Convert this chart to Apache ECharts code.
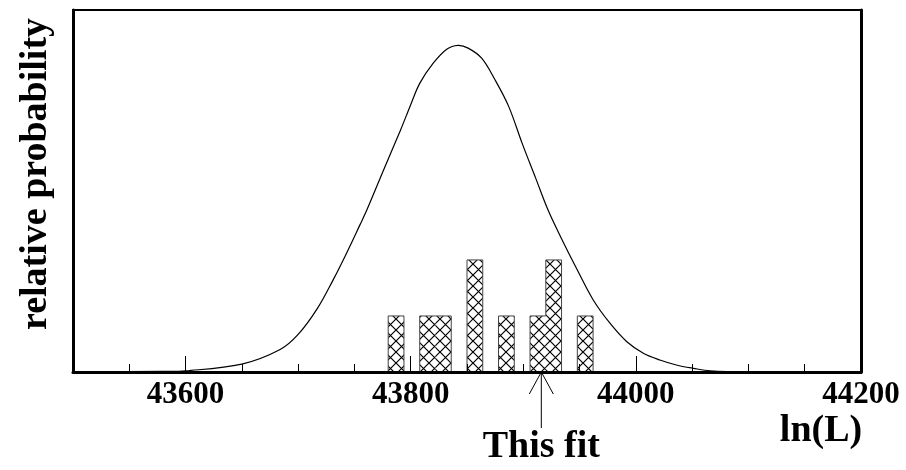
<!DOCTYPE html>
<html>
<head>
<meta charset="utf-8">
<script src="https://cdn.jsdelivr.net/npm/echarts@6/dist/echarts.min.js"></script>
<style>
  html, body { margin: 0; padding: 0; background: #fff; }
  #chart { width: 906px; height: 470px; }
</style>
</head>
<body>
<div id="chart"></div>
<script>
// ln(L) axis range and ticks
const xMin = 43500;
const xMax = 44200;
const majorTicks = [43600, 43800, 44000, 44200];
const minorTicks = [43550, 43650, 43700, 43750, 43850, 43900, 43950, 44050, 44100, 44150];

// histogram of fits: bin edges and counts per bin
const binEdges = [43780, 43794, 43808, 43822, 43836, 43850, 43864, 43878, 43892, 43906, 43920, 43934, 43948, 43962];
const binCounts = [1, 0, 1, 1, 0, 2, 0, 1, 0, 1, 2, 0, 1];

// expected distribution curve (relative probability, same units as counts)
const curveX = [43500, 43580, 43600, 43650, 43684, 43700, 43717, 43731, 43743, 43755, 43761, 43776, 43791, 43800, 43808, 43820, 43832, 43842, 43851, 43863, 43875, 43887, 43899, 43911, 43922, 43933, 43948, 43962, 43977, 43992, 44007, 44022, 44036, 44051, 44066, 44100, 44200];
const curveY = [0, 0.01, 0.02, 0.14, 0.40, 0.67, 1.13, 1.64, 2.12, 2.63, 2.89, 3.61, 4.32, 4.77, 5.15, 5.51, 5.76, 5.83, 5.78, 5.60, 5.21, 4.74, 4.08, 3.46, 2.89, 2.42, 1.82, 1.29, 0.87, 0.54, 0.33, 0.21, 0.125, 0.066, 0.02, 0, 0];

// value of this particular fit
const thisFit = 43916;
const yMax = 6.46;

const FONT = '"Liberation Serif", "Times New Roman", serif';

function makeHatch() {
  const s = 11;
  const c = document.createElement('canvas');
  c.width = s; c.height = s;
  const g = c.getContext('2d');
  g.fillStyle = '#fff';
  g.fillRect(0, 0, s, s);
  g.strokeStyle = '#000';
  g.lineWidth = 1.2;
  g.beginPath();
  g.moveTo(-1, -1); g.lineTo(s + 1, s + 1);
  g.moveTo(s + 1, -1); g.lineTo(-1, s + 1);
  g.stroke();
  return c;
}
const hatch = makeHatch();

const barData = [];
binCounts.forEach((c, i) => {
  if (c > 0) barData.push([binEdges[i], binEdges[i + 1], c]);
});

const outline = [[binEdges[0], 0]];
binCounts.forEach((c, i) => outline.push([binEdges[i], c]));
outline.push([binEdges[binEdges.length - 1], 0]);

const curve = curveX.map((x, i) => [x, curveY[i]]);

const chart = echarts.init(document.getElementById('chart'), null, { renderer: 'canvas' });

const option = {
  animation: false,
  backgroundColor: '#fff',
  grid: { left: 73, right: 45, top: 10, bottom: 98 },
  xAxis: [
    {
      type: 'value', min: xMin, max: xMax, position: 'bottom', z: 10,
      axisLine: { show: true, lineStyle: { color: '#000', width: 3 } },
      axisTick: { show: true, inside: true, length: 16, customValues: majorTicks, lineStyle: { color: '#000', width: 1 } },
      axisLabel: {
        show: true, customValues: majorTicks, margin: 7, color: '#000',
        fontFamily: FONT, fontWeight: 'bold', fontSize: 31,
        formatter: v => String(v)
      },
      splitLine: { show: false }
    },
    {
      type: 'value', min: xMin, max: xMax, position: 'bottom', z: 10,
      axisLine: { show: false },
      axisTick: { show: true, inside: true, length: 8, customValues: minorTicks, lineStyle: { color: '#000', width: 1 } },
      axisLabel: { show: false },
      splitLine: { show: false }
    },
    {
      type: 'value', min: xMin, max: xMax, position: 'top', z: 10,
      axisLine: { show: true, lineStyle: { color: '#000', width: 2 } },
      axisTick: { show: false }, axisLabel: { show: false }, splitLine: { show: false }
    }
  ],
  yAxis: [
    {
      type: 'value', min: 0, max: yMax, position: 'left', z: 10,
      axisLine: { show: true, lineStyle: { color: '#000', width: 3 } },
      axisTick: { show: false }, axisLabel: { show: false }, splitLine: { show: false }
    },
    {
      type: 'value', min: 0, max: yMax, position: 'right', z: 10,
      axisLine: { show: true, lineStyle: { color: '#000', width: 3 } },
      axisTick: { show: false }, axisLabel: { show: false }, splitLine: { show: false }
    }
  ],
  series: [
    {
      type: 'custom',
      xAxisIndex: 0, yAxisIndex: 0,
      data: barData,
      encode: { x: [0, 1], y: 2 },
      renderItem: function (params, api) {
        const p0 = api.coord([api.value(0), api.value(2)]);
        const p1 = api.coord([api.value(1), 0]);
        return {
          type: 'rect',
          shape: { x: p0[0], y: p0[1], width: p1[0] - p0[0], height: p1[1] - p0[1] },
          style: { fill: { image: hatch, repeat: 'repeat' }, stroke: null }
        };
      },
      z: 2
    },
    {
      type: 'line',
      xAxisIndex: 0, yAxisIndex: 0,
      data: outline,
      step: 'end',
      showSymbol: false,
      lineStyle: { color: '#444', width: 1 },
      z: 3
    },
    {
      // smooth curve through all points, drawn once as a single path
      type: 'custom',
      xAxisIndex: 0, yAxisIndex: 0,
      data: curve,
      encode: { x: 0, y: 1 },
      renderItem: function (params, api) {
        if (params.dataIndex !== 0) return null;
        const pts = curve.map(p => api.coord(p));
        return {
          type: 'polyline',
          shape: { points: pts, smooth: 0.35 },
          style: { stroke: '#000', lineWidth: 1.2, fill: null }
        };
      },
      z: 4
    }
  ]
};

chart.setOption(option);

// arrow marking this fit, placed through the axis scale
const ax = chart.convertToPixel({ xAxisIndex: 0 }, thisFit);
const y0 = chart.convertToPixel({ yAxisIndex: 0 }, 0);

chart.setOption({
  graphic: [
    {
      type: 'polyline', z: 20,
      shape: { points: [[ax - 12, y0 + 22], [ax, y0], [ax + 12, y0 + 22]] },
      style: { stroke: '#000', lineWidth: 1, fill: null }
    },
    {
      type: 'line', z: 20,
      shape: { x1: ax, y1: y0, x2: ax, y2: y0 + 56 },
      style: { stroke: '#000', lineWidth: 1 }
    },
    {
      type: 'text', z: 20, x: ax, y: 447,
      style: { text: 'This fit', fill: '#000', font: 'bold 38px ' + FONT, textAlign: 'center', textVerticalAlign: 'middle' }
    },
    {
      type: 'text', z: 20, x: 821, y: 431,
      style: { text: 'ln(L)', fill: '#000', font: 'bold 38px ' + FONT, textAlign: 'center', textVerticalAlign: 'middle' }
    },
    {
      type: 'text', z: 20, x: 36, y: 174, rotation: Math.PI / 2,
      style: { text: 'relative probability', fill: '#000', font: 'bold 38px ' + FONT, textAlign: 'center', textVerticalAlign: 'middle' }
    }
  ]
});
</script>
</body>
</html>
